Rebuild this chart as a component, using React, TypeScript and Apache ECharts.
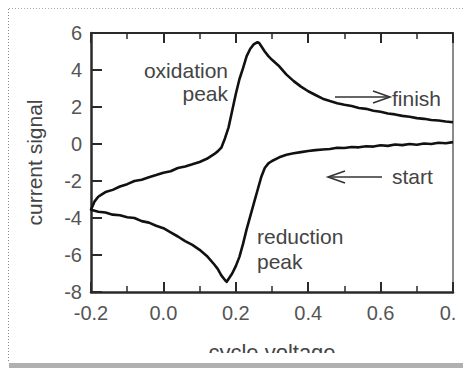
import React, { useEffect, useRef } from "react";
import * as echarts from "echarts";

// Reverse (reduction) scan: from 0.8 V back to -0.2 V
const lowerVoltage = [
  0.8, 0.78, 0.76, 0.74, 0.72, 0.7, 0.68, 0.66, 0.64, 0.62, 0.6, 0.58, 0.56, 0.54, 0.52, 0.5,
  0.48, 0.46, 0.44, 0.42, 0.4, 0.38, 0.36, 0.34, 0.32, 0.3, 0.29, 0.28, 0.27, 0.26, 0.25, 0.24,
  0.23, 0.22, 0.21, 0.2, 0.19, 0.18, 0.175, 0.17, 0.16, 0.15, 0.14, 0.12, 0.1, 0.08, 0.06, 0.04,
  0.02, 0.0, -0.02, -0.04, -0.06, -0.08, -0.1, -0.12, -0.14, -0.16, -0.18, -0.2,
];
const lowerCurrent = [
  0.1, 0.04, 0.07, 0.0, 0.03, -0.04, 0.0, -0.06, -0.03, -0.1, -0.07, -0.14, -0.12, -0.18, -0.16, -0.22,
  -0.2, -0.27, -0.3, -0.33, -0.38, -0.44, -0.5, -0.58, -0.72, -0.92, -1.05, -1.3, -1.8, -2.5, -3.2, -3.9,
  -4.6, -5.4, -6.1, -6.6, -7.0, -7.3, -7.45, -7.35, -7.1, -6.75, -6.5, -6.05, -5.72, -5.45, -5.25, -5.0,
  -4.78, -4.55, -4.42, -4.25, -4.17, -4.0, -3.96, -3.85, -3.82, -3.7, -3.66, -3.55,
];

// Forward (oxidation) scan: from -0.2 V to 0.8 V
const upperVoltage = [
  -0.2, -0.19, -0.18, -0.17, -0.16, -0.14, -0.12, -0.1, -0.08, -0.06, -0.04, -0.02, 0.0, 0.02, 0.04,
  0.06, 0.08, 0.1, 0.12, 0.14, 0.15, 0.16, 0.17, 0.18, 0.19, 0.2, 0.21, 0.22, 0.23, 0.24, 0.25, 0.26,
  0.265, 0.27, 0.28, 0.29, 0.3, 0.32, 0.34, 0.36, 0.38, 0.4, 0.42, 0.44, 0.46, 0.48, 0.5, 0.52, 0.54,
  0.56, 0.58, 0.6, 0.62, 0.64, 0.66, 0.68, 0.7, 0.72, 0.74, 0.76, 0.78, 0.8,
];
const upperCurrent = [
  -3.55, -3.1, -2.85, -2.72, -2.6, -2.48, -2.3, -2.17, -2.0, -1.93, -1.8, -1.68, -1.55, -1.47, -1.3,
  -1.22, -1.1, -0.97, -0.8, -0.55, -0.4, -0.2, 0.3, 0.9, 1.8, 2.7, 3.5, 4.1, 4.75, 5.15, 5.4, 5.5,
  5.45, 5.3, 5.0, 4.75, 4.55, 4.2, 3.75, 3.4, 3.1, 2.85, 2.65, 2.45, 2.32, 2.2, 2.12, 2.05, 1.95,
  1.9, 1.8, 1.74, 1.65, 1.6, 1.52, 1.47, 1.4, 1.36, 1.3, 1.27, 1.22, 1.18,
];

const xTickMin = -0.2;
const xTickMax = 0.8;
const xTickStep = 0.2;
const yTickMin = -8;
const yTickMax = 6;
const yTickStep = 2;

const xTitle = "cycle voltage";
const yTitle = "current signal";

const FONT = "'Liberation Sans', Arial, Helvetica, sans-serif";
const LABEL_COLOR = "#555";
const TEXT_COLOR = "#444";

export default function App() {
  const ref = useRef<HTMLDivElement>(null);

  useEffect(() => {
    if (!ref.current) return;
    const chart = echarts.init(ref.current, undefined, { renderer: "svg" });

    const curve: number[][] = [];
    lowerVoltage.forEach((v, i) => curve.push([v, lowerCurrent[i]]));
    upperVoltage.forEach((v, i) => curve.push([v, upperCurrent[i]]));

    const textStyle = (text: string, x: number, y: number, align: string = "left") => ({
      type: "text",
      x,
      y,
      z: 50,
      style: {
        text,
        fill: TEXT_COLOR,
        font: `21px ${FONT}`,
        textAlign: align,
        textVerticalAlign: "top",
      },
    });

    chart.setOption({
      animation: false,
      backgroundColor: "#fff",
      grid: { left: 91, top: 33, right: 10, bottom: 78, containLabel: false },
      xAxis: [
        {
          type: "value",
          position: "bottom",
          min: xTickMin,
          max: xTickMax,
          interval: xTickStep,
          name: xTitle,
          nameLocation: "middle",
          nameGap: 49,
          nameTextStyle: { fontSize: 22, color: TEXT_COLOR, fontFamily: FONT },
          axisLine: { show: true, onZero: false, lineStyle: { color: "#2a2a2a", width: 2.5 } },
          axisTick: { show: true, inside: true, length: 10, lineStyle: { color: "#2a2a2a", width: 2 } },
          minorTick: { show: true, splitNumber: 2, length: 6, lineStyle: { color: "#2a2a2a", width: 1.5 } },
          splitLine: { show: false },
          axisLabel: {
            margin: 11,
            fontSize: 20,
            color: LABEL_COLOR,
            fontFamily: FONT,
            formatter: (v: number) =>
              Math.abs(v - 0.8) < 1e-6 ? "{c|0.}" : v.toFixed(1),
            rich: {
              c: { fontSize: 20, color: LABEL_COLOR, fontFamily: FONT, padding: [0, 10, 0, 0] },
            },
          },
        },
        {
          type: "value",
          position: "top",
          min: xTickMin,
          max: xTickMax,
          interval: xTickStep,
          axisLine: { show: true, onZero: false, lineStyle: { color: "#2a2a2a", width: 2 } },
          axisTick: { show: true, inside: true, length: 10, lineStyle: { color: "#2a2a2a", width: 2 } },
          minorTick: { show: true, splitNumber: 2, length: 6, lineStyle: { color: "#2a2a2a", width: 1.5 } },
          splitLine: { show: false },
          axisLabel: { show: false },
        },
      ],
      yAxis: [
        {
          type: "value",
          position: "left",
          min: yTickMin,
          max: yTickMax,
          interval: yTickStep,
          name: yTitle,
          nameLocation: "middle",
          nameGap: 46,
          nameTextStyle: { fontSize: 21, color: TEXT_COLOR, fontFamily: FONT },
          axisLine: { show: true, onZero: false, lineStyle: { color: "#2a2a2a", width: 2.5 } },
          axisTick: { show: true, inside: true, length: 11, lineStyle: { color: "#2a2a2a", width: 2 } },
          splitLine: { show: false },
          axisLabel: { margin: 9, fontSize: 20, color: LABEL_COLOR, fontFamily: FONT },
        },
        {
          type: "value",
          position: "right",
          min: yTickMin,
          max: yTickMax,
          interval: yTickStep,
          axisLine: { show: true, onZero: false, lineStyle: { color: "#666", width: 1.5 } },
          axisTick: { show: false },
          splitLine: { show: false },
          axisLabel: { show: false },
        },
      ],
      series: [
        {
          type: "line",
          xAxisIndex: 0,
          yAxisIndex: 0,
          data: curve,
          showSymbol: false,
          symbol: "none",
          lineStyle: { color: "#111", width: 2.6, join: "round" },
          z: 3,
        },
      ],
      graphic: [
        textStyle("oxidation", 228, 60, "right"),
        textStyle("peak", 228, 83, "right"),
        textStyle("reduction", 257, 226, "left"),
        textStyle("peak", 257, 251, "left"),
        textStyle("finish", 392, 88, "left"),
        textStyle("start", 392, 166, "left"),
        {
          type: "polyline",
          z: 50,
          shape: { points: [[335, 97], [389, 97]] },
          style: { stroke: "#333", lineWidth: 1.6, fill: "none" },
        },
        {
          type: "polyline",
          z: 50,
          shape: { points: [[373, 91], [390, 97], [373, 103]] },
          style: { stroke: "#333", lineWidth: 1.6, fill: "none" },
        },
        {
          type: "polyline",
          z: 50,
          shape: { points: [[329, 177], [382, 177]] },
          style: { stroke: "#333", lineWidth: 1.6, fill: "none" },
        },
        {
          type: "polyline",
          z: 50,
          shape: { points: [[345, 171], [328, 177], [345, 183]] },
          style: { stroke: "#333", lineWidth: 1.6, fill: "none" },
        },
        // crop mask hiding the lower part of the x-axis title
        {
          type: "rect",
          z: 100,
          shape: { x: 0, y: 353, width: 463, height: 17 },
          style: { fill: "#fff" },
        },
        // frame: bottom shadow bar
        {
          type: "rect",
          z: 101,
          shape: { x: 9, y: 363, width: 454, height: 5 },
          style: { fill: "#b0b0b0" },
        },
        // frame: dotted left and top borders
        {
          type: "line",
          z: 101,
          shape: { x1: 8.5, y1: 9, x2: 8.5, y2: 363 },
          style: { stroke: "#888", lineWidth: 1, lineDash: [1, 2] },
        },
        {
          type: "line",
          z: 101,
          shape: { x1: 9, y1: 8.5, x2: 463, y2: 8.5 },
          style: { stroke: "#aaa", lineWidth: 1, lineDash: [1, 2] },
        },
      ],
    });

    return () => chart.dispose();
  }, []);

  return (
    <div
      ref={ref}
      style={{ position: "fixed", left: 0, top: 0, width: 463, height: 370, background: "#fff" }}
    />
  );
}
